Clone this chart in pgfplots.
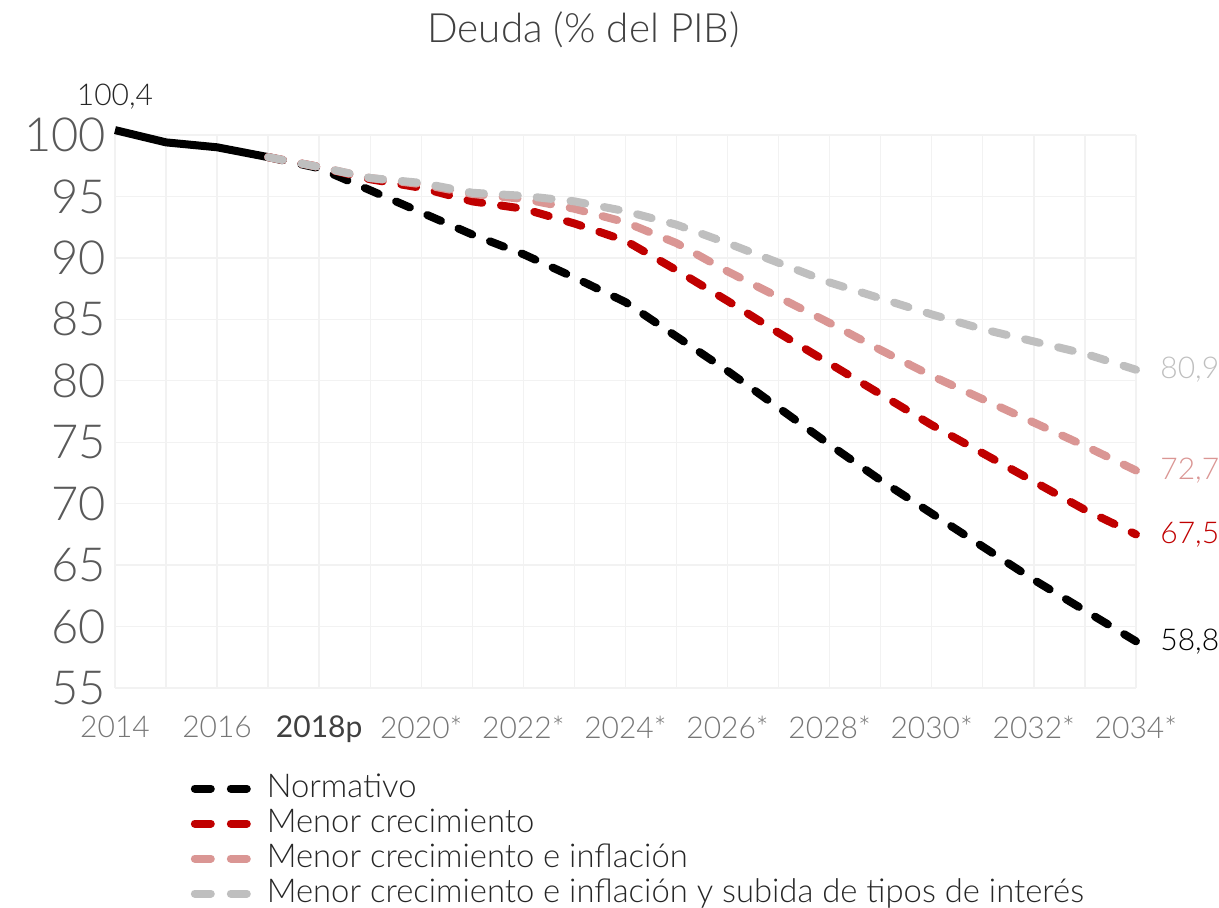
\documentclass[border=0pt]{standalone}
\usepackage{fontspec}
\setmainfont{Lato}[UprightFont=* Light, BoldFont=* Regular]
\usepackage{pgfplots}
\pgfplotsset{compat=1.18}
\definecolor{cred}{HTML}{C00000}
\definecolor{cpink}{HTML}{DA9694}
\definecolor{cgray}{HTML}{BFBFBF}
\definecolor{cgrid}{HTML}{F2F2F2}
\definecolor{ctick}{HTML}{595959}
\definecolor{cxtick}{HTML}{767676}
\definecolor{ctitle}{HTML}{404040}
\definecolor{ctext}{HTML}{262626}
\begin{document}
\begin{tikzpicture}
\useasboundingbox (-57.5pt,-109.5pt) rectangle (552pt,344pt);
\begin{axis}[
  at={(0pt,0pt)}, anchor=south west,
  scale only axis, width=510.5pt, height=276.5pt,
  xmin=2014, xmax=2034, ymin=55, ymax=100,
  clip=false,
  axis line style={draw=none},
  major tick length=0pt,
  grid=major,
  major grid style={draw=cgrid, line width=0.7pt},
  xtick={2014,...,2034},
  xticklabels={2014,,2016,,\textcolor{ctitle}{\bfseries 2018p},,2020*,,2022*,,2024*,,2026*,,2028*,,2030*,,2032*,,2034*},
  ytick={55,60,...,100},
  /pgf/number format/assume math mode=true,
  yticklabel style={font=\fontsize{23.5}{26}\selectfont, color=ctick, xshift=-1pt},
  xticklabel style={font=\fontsize{15}{18}\selectfont, color=cxtick, yshift=-10.5pt},
  legend style={at={(axis description cs:0.068,-0.145)}, anchor=north west, draw=none, fill=none,
    font=\fontsize{16.4}{19}\selectfont, text=ctext,
    nodes={inner sep=0pt, text height=12.5pt, text depth=3.5pt},
    row sep=1.5pt, column sep=0pt},
  legend cell align=left,
  legend image code/.code={\draw[#1, dash pattern=on 8pt off 10pt] (2pt,0pt) -- (28pt,0pt) node[right, inner sep=0pt] {\hspace*{8pt}};},
]
\addplot[black, line width=4pt, forget plot] coordinates {(2014,100.4) (2015,99.4) (2016,99.0) (2017,98.2)};
\addplot[black, line width=4pt, line cap=round, dash pattern=on 7.5pt off 9.5pt] coordinates {
(2017,98.2) (2018,97.3) (2019,95.5) (2020,93.7) (2021,91.9) (2022,90.3) (2023,88.4) (2024,86.4) (2025,83.6) (2026,80.8) (2027,77.8) (2028,74.8) (2029,71.9) (2030,69.2) (2031,66.5) (2032,63.8) (2033,61.3) (2034,58.8)};
\addlegendentry{Normativo}
\addplot[cred, line width=4pt, line cap=round, dash pattern=on 7.5pt off 9.5pt] coordinates {
(2017,98.2) (2018,97.4) (2019,96.4) (2020,95.7) (2021,94.6) (2022,94.0) (2023,92.8) (2024,91.4) (2025,89.0) (2026,86.5) (2027,83.9) (2028,81.4) (2029,78.9) (2030,76.4) (2031,74.1) (2032,71.8) (2033,69.5) (2034,67.5)};
\addlegendentry{Menor crecimiento}
\addplot[cpink, line width=4pt, line cap=round, dash pattern=on 7.5pt off 9.5pt] coordinates {
(2017,98.2) (2018,97.4) (2019,96.5) (2020,96.0) (2021,95.2) (2022,94.8) (2023,94.0) (2024,92.9) (2025,91.2) (2026,88.9) (2027,86.8) (2028,84.7) (2029,82.5) (2030,80.4) (2031,78.5) (2032,76.6) (2033,74.7) (2034,72.7)};
\addlegendentry{Menor crecimiento e inflación}
\addplot[cgray, line width=4pt, line cap=round, dash pattern=on 7.5pt off 9.5pt] coordinates {
(2017,98.2) (2018,97.4) (2019,96.5) (2020,96.1) (2021,95.3) (2022,95.05) (2023,94.6) (2024,93.8) (2025,92.7) (2026,91.2) (2027,89.6) (2028,88.0) (2029,86.7) (2030,85.4) (2031,84.2) (2032,83.2) (2033,82.2) (2034,80.9)};
\addlegendentry{Menor crecimiento e inflación y subida de tipos de interés}
\node[anchor=west, inner sep=0pt, xshift=12pt, font=\fontsize{15}{18}\selectfont, text=cgray] at (axis cs:2034,80.9) {80,9};
\node[anchor=west, inner sep=0pt, xshift=12pt, font=\fontsize{15}{18}\selectfont, text=cpink] at (axis cs:2034,72.7) {72,7};
\node[anchor=west, inner sep=0pt, xshift=12pt, font=\fontsize{15}{18}\selectfont, text=cred] at (axis cs:2034,67.5) {67,5};
\node[anchor=west, inner sep=0pt, xshift=12pt, font=\fontsize{15}{18}\selectfont, text=black] at (axis cs:2034,58.8) {58,8};
\node[inner sep=0pt, yshift=16.5pt, font=\fontsize{15}{18}\selectfont, text=ctext] at (axis cs:2014,100.4) {100,4};
\node[font=\fontsize{20.2}{24}\selectfont, text=ctitle] at (axis description cs:0.459,1.19) {Deuda (\% del PIB)};
\end{axis}
\end{tikzpicture}
\end{document}
